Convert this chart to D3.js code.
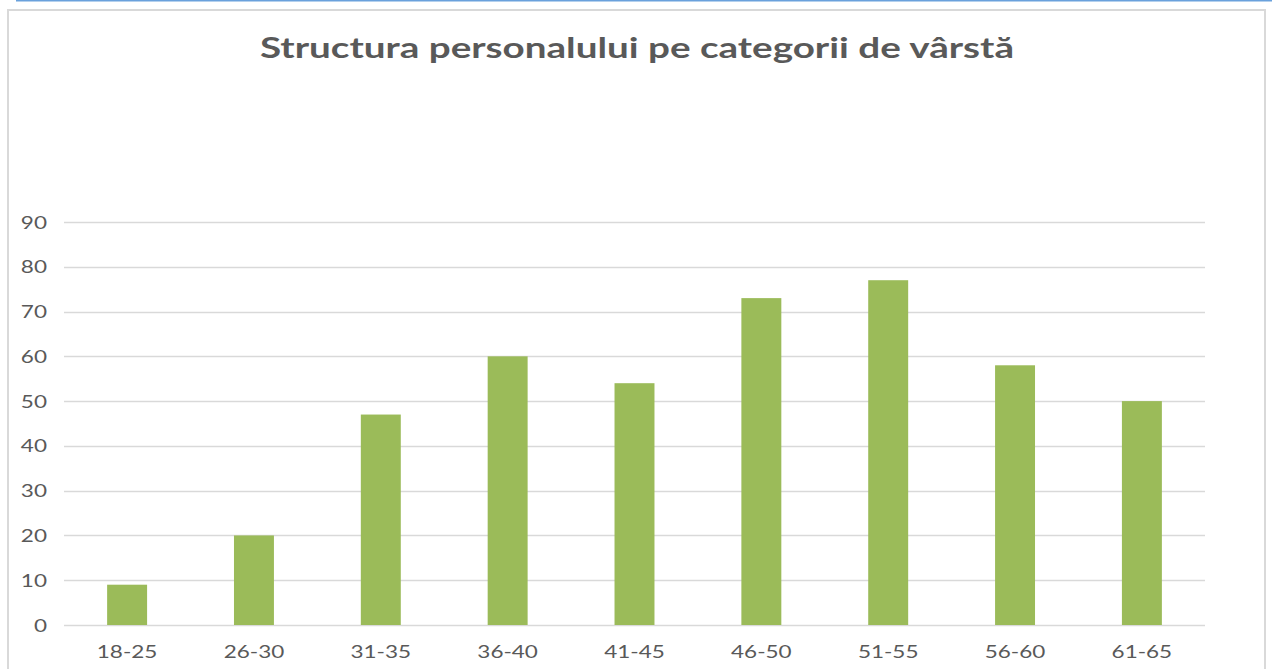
<!DOCTYPE html>
<html><head><meta charset="utf-8">
<script src="https://cdn.jsdelivr.net/npm/d3@7"></script>
<style>body{margin:0;background:#fff}svg{display:block}</style>
</head><body>
<svg id="c" width="1272" height="669"></svg>
<script>
const categories = ["18-25","26-30","31-35","36-40","41-45","46-50","51-55","56-60","61-65"];
const values = [9, 20, 47, 60, 54, 73, 77, 58, 50];
const yTicks = [0,10,20,30,40,50,60,70,80,90];
const title = "Structura personalului pe categorii de vârstă";

const svg = d3.select("#c");
// top blue line
svg.append("line").attr("x1",16).attr("x2",1272).attr("y1",0.5).attr("y2",0.5)
  .attr("stroke","#6aa1dc").attr("stroke-width",2);
// chart border
svg.append("rect").attr("x",8).attr("y",10).attr("width",1257).attr("height",680)
  .attr("fill","#fff").attr("stroke","#d9d9d9").attr("stroke-width",2);

const x = d3.scaleBand().domain(categories).range([64,1205]).paddingInner(0.685).paddingOuter(0.34);
const y = d3.scaleLinear().domain([0,90]).range([625,222]);

const g = svg.append("g");
g.selectAll("line.grid").data(yTicks).join("line").attr("class","grid")
  .attr("x1",64).attr("x2",1205).attr("y1",d=>Math.round(y(d))+0.5).attr("y2",d=>Math.round(y(d))+0.5)
  .attr("stroke","#d9d9d9").attr("stroke-width",1.5);

g.selectAll("rect.bar").data(values).join("rect").attr("class","bar")
  .attr("x",(d,i)=>x(categories[i])).attr("width",x.bandwidth())
  .attr("y",d=>y(d)).attr("height",d=>y(0)-y(d)).attr("fill","#9bbb59");

function stretch(sel, k){
  sel.each(function(){
    const w = this.getComputedTextLength();
    d3.select(this).attr("textLength", w*k).attr("lengthAdjust","spacingAndGlyphs");
  });
}

const yl = g.selectAll("text.yl").data(yTicks).join("text").attr("class","yl")
  .attr("x",47).attr("y",d=>y(d)+6.5).attr("text-anchor","end")
  .attr("font-family","Lato, 'Open Sans', sans-serif").attr("font-size",18).attr("fill","#595959")
  .text(d=>d);
stretch(yl, 1.25);

const xl = g.selectAll("text.xl").data(categories).join("text").attr("class","xl")
  .attr("x",d=>x(d)+x.bandwidth()/2).attr("y",658).attr("text-anchor","middle")
  .attr("font-family","Lato, 'Open Sans', sans-serif").attr("font-size",18).attr("fill","#595959")
  .text(d=>d);
stretch(xl, 1.25);

svg.append("text").attr("x",637).attr("y",58).attr("text-anchor","middle")
  .attr("font-family","Lato, 'Open Sans', sans-serif").attr("font-weight","bold").attr("font-size",28)
  .attr("fill","#595959").attr("textLength",754).attr("lengthAdjust","spacingAndGlyphs").text(title);
</script>
</body></html>
